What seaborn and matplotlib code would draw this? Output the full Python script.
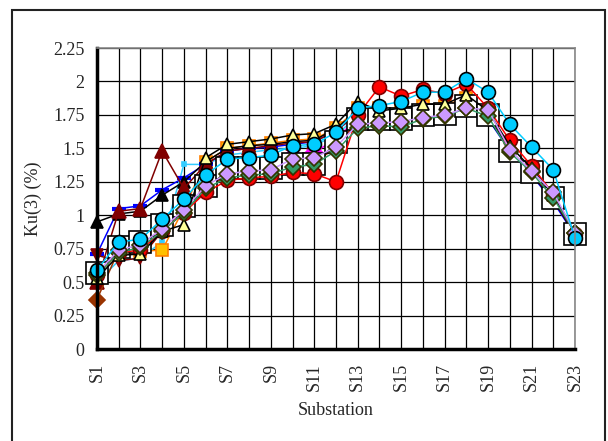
import pandas as pd
import seaborn as sns
import matplotlib.pyplot as plt
from matplotlib.patches import Rectangle

substations = [f'S{i}' for i in range(1, 24)]

light_cyan = [0.50, 0.66, 0.68, 0.80, 1.38, 1.38, 1.45, 1.47, 1.49, 1.50, 1.52, 1.60, 1.74, 1.74, 1.76, 1.79, 1.80, 1.86, 1.74, 1.50, 1.32, 1.13, 0.85]
orange_sq = [0.55, 0.72, 0.73, 0.74, 1.05, 1.40, 1.50, 1.52, 1.54, 1.56, 1.57, 1.65, 1.80, 1.80, 1.80, 1.82, 1.82, 1.88, 1.75, 1.50, 1.33, 1.14, 0.86]
blue_dash = [0.71, 1.05, 1.07, 1.19, 1.28, 1.38, 1.48, 1.50, 1.51, 1.53, 1.55, 1.63, 1.76, 1.75, 1.76, 1.78, 1.80, 1.85, 1.72, 1.48, 1.30, 1.10, 0.85]
black_tri = [0.95, 1.01, 1.03, 1.15, 1.25, 1.40, 1.50, 1.52, 1.53, 1.55, 1.56, 1.65, 1.78, 1.72, 1.75, 1.78, 1.80, 1.85, 1.72, 1.50, 1.30, 1.12, 0.85]
maroon_tri = [0.50, 1.03, 1.05, 1.48, 1.20, 1.38, 1.48, 1.50, 1.52, 1.54, 1.55, 1.63, 1.76, 1.74, 1.76, 1.78, 1.80, 1.86, 1.74, 1.50, 1.31, 1.12, 0.86]
maroon_sq = [0.70, 0.66, 0.68, 0.88, 1.02, 1.18, 1.32, 1.34, 1.36, 1.40, 1.42, 1.52, 1.70, 1.72, 1.72, 1.76, 1.76, 1.84, 1.76, 1.48, 1.32, 1.13, 0.86]
darkred_dia = [0.37, 0.74, 0.78, 0.90, 1.03, 1.18, 1.30, 1.32, 1.33, 1.38, 1.40, 1.50, 1.70, 1.70, 1.71, 1.74, 1.76, 1.82, 1.77, 1.49, 1.34, 1.16, 0.87]
magenta = [0.55, 0.74, 0.77, 0.90, 1.04, 1.25, 1.33, 1.35, 1.37, 1.45, 1.47, 1.57, 1.73, 1.74, 1.77, 1.80, 1.80, 1.86, 1.75, 1.48, 1.32, 1.14, 0.86]
white_sq = [0.57, 0.76, 0.80, 0.93, 1.07, 1.22, 1.35, 1.35, 1.35, 1.38, 1.38, 1.55, 1.72, 1.72, 1.72, 1.75, 1.76, 1.82, 1.75, 1.48, 1.32, 1.13, 0.86]
red_circ = [0.55, 0.72, 0.74, 0.88, 1.02, 1.17, 1.26, 1.28, 1.29, 1.32, 1.31, 1.25, 1.75, 1.96, 1.89, 1.94, 1.91, 1.98, 1.80, 1.56, 1.37, 1.16, 0.86]
yellow_tri = [0.53, 0.70, 0.71, 0.88, 0.93, 1.43, 1.53, 1.55, 1.57, 1.60, 1.61, 1.68, 1.85, 1.78, 1.80, 1.83, 1.83, 1.90, 1.78, 1.52, 1.35, 1.15, 0.87]
green_dia = [0.55, 0.72, 0.76, 0.88, 1.02, 1.20, 1.28, 1.30, 1.31, 1.36, 1.38, 1.48, 1.65, 1.67, 1.66, 1.72, 1.74, 1.80, 1.74, 1.47, 1.32, 1.13, 0.87]
lavender_dia = [0.57, 0.74, 0.78, 0.90, 1.04, 1.22, 1.31, 1.33, 1.34, 1.42, 1.43, 1.51, 1.68, 1.69, 1.70, 1.73, 1.75, 1.80, 1.79, 1.49, 1.33, 1.17, 0.87]
cyan_circ = [0.59, 0.80, 0.82, 0.97, 1.12, 1.30, 1.42, 1.43, 1.45, 1.52, 1.53, 1.62, 1.80, 1.82, 1.85, 1.92, 1.92, 2.02, 1.92, 1.68, 1.51, 1.34, 0.83]

# name, values, line colour, marker, marker size, face, edge
series = [
    ('light_cyan', light_cyan, '#33ccff', 's', 3, '#33ccff', '#33ccff'),
    ('orange_sq', orange_sq, '#ff8000', 's', 8, '#ffc000', '#ff8000'),
    ('blue_dash', blue_dash, '#0000ff', '_', 10, '#0000ff', '#0000ff'),
    ('black_tri', black_tri, '#000000', '^', 9, '#000000', '#000000'),
    ('maroon_tri', maroon_tri, '#800000', '^', 10, '#800000', '#800000'),
    ('maroon_sq', maroon_sq, '#800000', 'v', 8, '#800000', '#800000'),
    ('darkred_dia', darkred_dia, '#993300', 'D', 8, '#993300', '#993300'),
    ('magenta', magenta, '#ff00ff', 'D', 8, '#ff00ff', '#ff00ff'),
    ('white_sq', white_sq, '#000000', 's', 16, '#ffffff', '#000000'),
    ('red_circ', red_circ, '#ff0000', 'o', 10, '#ff0000', '#800000'),
    ('yellow_tri', yellow_tri, '#000000', '^', 9, '#ffff99', '#000000'),
    ('green_dia', green_dia, '#339966', 'D', 8, '#339966', '#333300'),
    ('lavender_dia', lavender_dia, '#cc99ff', 'D', 8, '#cc99ff', '#333300'),
    ('cyan_circ', cyan_circ, '#00ccff', 'o', 10, '#00ccff', '#000000'),
]

rows = []
for name, vals, *_ in series:
    for i, v in enumerate(vals):
        rows.append({'series': name, 'idx': i, 'Ku': v})
df = pd.DataFrame(rows)

sns.set_style('white')
plt.rcParams['font.family'] = ['Liberation Serif', 'DejaVu Serif']

fig = plt.figure(figsize=(6.08, 4.41), dpi=100)
ax = fig.add_axes([0.1595, 0.2086, 0.7862, 0.6825])

for name, vals, color, marker, ms, face, edge in series:
    sub = df[df['series'] == name]
    sns.lineplot(data=sub, x='idx', y='Ku', ax=ax, color=color, linewidth=1.1,
                 marker=marker, markersize=ms, markerfacecolor=face,
                 markeredgecolor=edge, markeredgewidth=1.2 if marker != '_' else 3,
                 legend=False, clip_on=False)

ax.set_xlim(0, 22)
ax.set_ylim(0, 2.25)
ax.set_yticks([i * 0.25 for i in range(10)])
ax.set_yticklabels(['0', '0.25', '0.5', '0.75', '1', '1.25', '1.5', '1.75', '2', '2.25'])
ax.set_xticks(range(23))
ax.set_xticklabels([s if i % 2 == 0 else '' for i, s in enumerate(substations)], rotation=90)
ax.grid(True, color='#000000', linewidth=0.9)
ax.set_axisbelow(True)

ax.tick_params(axis='both', direction='out', length=6, width=2, labelsize=13, color='black')
ax.tick_params(axis='x', pad=4)
ax.tick_params(axis='y', pad=3)
for side in ['left', 'bottom']:
    ax.spines[side].set_color('black')
    ax.spines[side].set_linewidth(2.5)
for side in ['top', 'right']:
    ax.spines[side].set_color('#888888')
    ax.spines[side].set_linewidth(1.2)

ax.set_xlabel('Substation', fontsize=13, labelpad=8)
ax.set_ylabel('Ku(3) (%)', fontsize=13, labelpad=8)

fig.patches.append(Rectangle((0.0197, -0.01), 0.975, 0.987, transform=fig.transFigure,
                             fill=False, edgecolor='#222222', linewidth=1.5))

fig.savefig('out.png', dpi=100)
